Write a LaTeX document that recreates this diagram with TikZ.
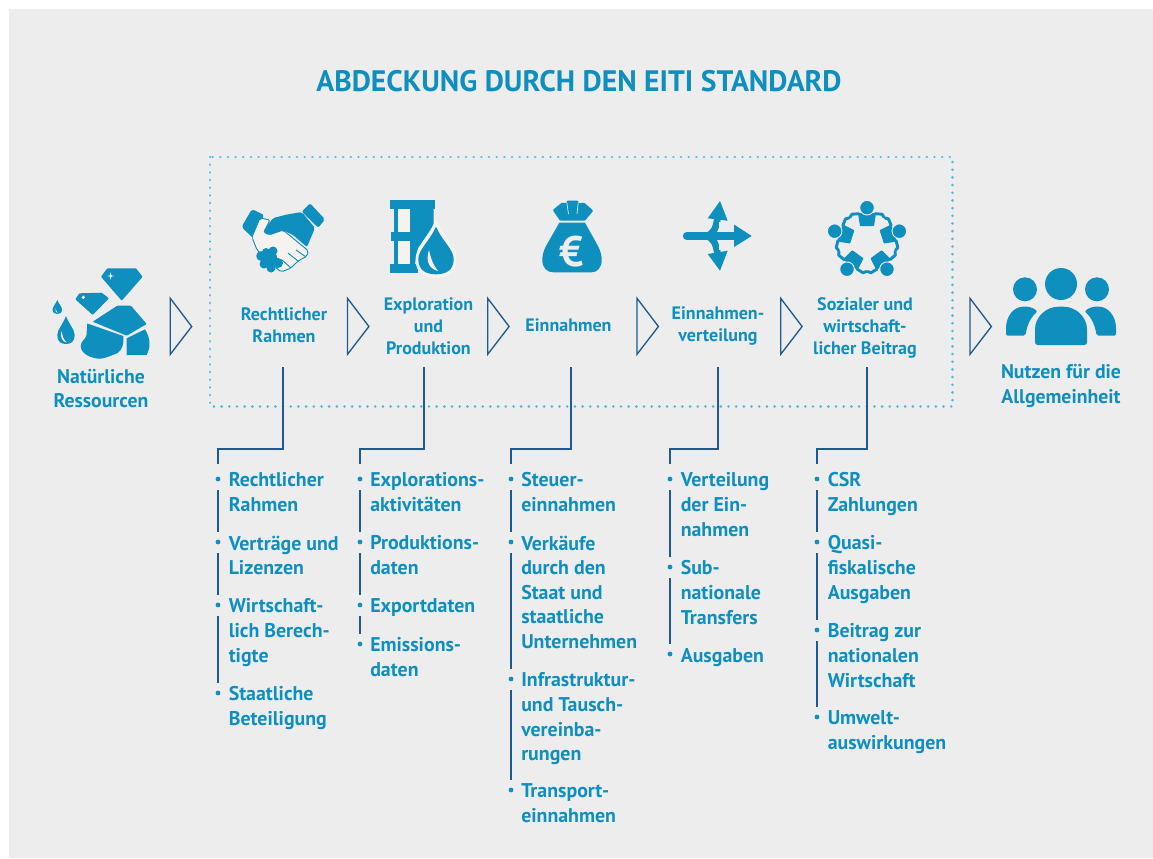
\documentclass[tikz,border=0pt]{standalone}
\usepackage{fontspec}
\setmainfont{PT Sans}
\definecolor{bgc}{HTML}{EDEDEE}
\definecolor{ikb}{HTML}{0F8FBE}
\definecolor{lit}{HTML}{F6F3EF}
\definecolor{nav}{HTML}{1F5A8E}
\definecolor{dotc}{HTML}{45BDE8}
\tikzset{
  px/.style={x=0.75pt,y=-0.75pt},
  lab/.style={text=ikb,font=\fontsize{13.5}{16.5}\selectfont\bfseries,align=center,inner sep=0pt},
  big/.style={text=ikb,font=\fontsize{14.8}{18.2}\selectfont\bfseries,align=center,inner sep=0pt},
  item/.style={text=ikb,font=\fontsize{14.9}{18.45}\selectfont\bfseries,align=left,anchor=north west,inner sep=0pt},
  bul/.style={circle,fill=ikb,draw=none,minimum size=3.6pt,inner sep=0pt},
  conn/.style={draw=nav,line width=1pt},
  seg/.style={conn,shorten <=6.5pt,shorten >=5.5pt},
  tri/.style={draw=nav,line width=1pt,line join=miter,fill=none},
  ico/.style={fill=ikb,draw=none},
  icl/.style={fill=lit,draw=none},
}
\newcommand{\trian}[2]{\draw[tri] (#1,#2-28.2) -- (#1+21.4,#2) -- (#1,#2+27.8) -- cycle;}
\newcommand{\dropshape}[4]{% cx, top, bottom, halfwidth
  (#1,#2) .. controls (#1+#4*0.35,#2+0.3*#3-0.3*#2) and (#1+#4,#2+0.48*#3-0.48*#2) .. (#1+#4,#2+0.68*#3-0.68*#2)
  .. controls (#1+#4,#3-0.08*#3+0.08*#2) and (#1+#4*0.55,#3) .. (#1,#3)
  .. controls (#1-#4*0.55,#3) and (#1-#4,#3-0.08*#3+0.08*#2) .. (#1-#4,#2+0.68*#3-0.68*#2)
  .. controls (#1-#4,#2+0.48*#3-0.48*#2) and (#1-#4*0.35,#2+0.3*#3-0.3*#2) .. (#1,#2) -- cycle}
\begin{document}
\begin{tikzpicture}[px]
\useasboundingbox (0,0) rectangle (1153,858);
\fill[white] (0,0) rectangle (1153,858);
\fill[bgc] (9,9) rectangle (1153,858);
\node[text=ikb,font=\fontsize{22.2}{26}\selectfont\bfseries,inner sep=0pt] (title) at (579,81) {ABDECKUNG DURCH DEN EITI STANDARD};
\draw[dotc,line width=2.1pt,line cap=round,dash pattern=on 0.01pt off 5.75pt] (210,157) rectangle (952.5,406.5);
% triangles
\trian{170.3}{326.5}\trian{347.5}{326.5}\trian{487.7}{326.5}\trian{637}{326.5}\trian{780.7}{326.5}\trian{970}{326.5}
% labels
\node[big] (nat) at (101,388.5) {Natürliche\\Ressourcen};
\node[lab] (l1) at (284,325) {Rechtlicher\\Rahmen};
\node[lab] (l2) at (428.5,326) {Exploration\\und\\Produktion};
\node[lab] (l3) at (568.5,325.5) {Einnahmen};
\node[lab] (l4) at (718,325.5) {Einnahmen-\\verteilung};
\node[lab] (l5) at (865,328) {Sozialer und\\wirtschaft-\\licher Beitrag};
\node[big] (nu) at (1061,386) {Nutzen für die\\Allgemeinheit};
% --- resources icon
\fill[ico,rounded corners=0.6pt] (107.3,268.3) -- (136,268.3) -- (142.7,276.7) -- (121.7,300.7) -- (101,276.7) -- cycle;
\fill[lit] (110.7,272) -- (111.3,275.4) -- (114.5,276) -- (111.3,276.6) -- (110.7,280) -- (110.1,276.6) -- (107,276) -- (110.1,275.4) -- cycle;
\fill[ico,rounded corners=0.6pt] (79.3,293.3) -- (101.7,292.7) -- (109,298.3) -- (92.7,315) -- (75.3,299.3) -- cycle;
\fill[lit] (83.3,297.3) circle (1.8);
\fill[ico,rounded corners=0.6pt] (92.7,321.7) -- (117.3,305.7) -- (131,305.7) -- (146.7,324) -- (126.7,335.7) -- cycle;
\fill[ico] (87.3,323.5) -- (123.3,336) .. controls (124,345) and (122,350) .. (117.3,353.3) .. controls (110,356) and (104,358.7) .. (100,358.7) .. controls (92,358.7) and (80.7,354) .. (80.7,346) .. controls (80.7,341) and (86,339) .. (86.5,335) -- cycle;
\fill[ico] (126.7,338.3) -- (145,329.3) .. controls (148,334) and (149.5,339) .. (149.5,344) .. controls (149.5,349) and (148,352) .. (146.7,355) -- (126.7,355) -- cycle;
\fill[ico] \dropshape{57.3}{300}{314}{4.7};
\fill[lit] (55.5,308) .. controls (55,311) and (56,312.5) .. (57.5,313) .. controls (56.5,311.5) and (56.2,310) .. (55.5,308) -- cycle;
\fill[ico] \dropshape{66}{316}{344}{8.7};
\fill[lit] (61.5,331) .. controls (60,337) and (62,342) .. (67,342.5) .. controls (63.5,340) and (62.5,336) .. (61.5,331) -- cycle;
% --- handshake
\fill[ico,rounded corners=1.5pt] (252,209) -- (264,215) -- (253,238) -- (241.5,227) -- cycle;
\fill[ico,rounded corners=1.5pt] (310,203.3) -- (325,219.3) -- (318.3,227.7) -- (301.7,211.7) -- cycle;
\fill[icl,draw=ikb,line width=0.7pt,rounded corners=1.5pt] (260,218) -- (270,220) -- (264,232) -- (269,235) -- (283,230) -- (308.5,251) -- (307,256) -- (298,261) -- (291,268) -- (281,272) -- (257,250) -- (252,237) -- cycle;
\draw[ikb,line width=0.7pt,rounded corners=1pt] (306,257) -- (296,250) (298,261) -- (288,253) (291,268) -- (282,260);
\fill[ico,rounded corners=1.5pt] (301.7,212) -- (315,228) -- (307,247) -- (293,235) -- (283,230) -- (269,235) -- (263,232) -- (273,218) -- (287,214.5) -- cycle;
\fill[ico] (269,259) circle (8.5) (261,256) circle (4.8) (264,264) circle (4.5) (271,268) circle (4.5) (278,263) circle (5) (273,251) circle (4.5) (266,252) circle (4);
% --- barrel and drop
\fill[ico] (390,200) rectangle (435,209);
\fill[ico] (390,264) rectangle (418,272.7);
\fill[ico] (394,209) rectangle (398.3,264);
\fill[ico] (391,231.7) rectangle (410,241);
\fill[ico] (410,209) -- (433.5,209) -- (433.5,226) -- (418,248) -- (415,264) -- (410,264) -- cycle;
\fill[icl] (398.3,209) rectangle (410,231.7);
\fill[icl] (398.3,241) rectangle (410,264);
\fill[icl] \dropshape{436}{219}{278}{20.5};
\fill[ico] \dropshape{436}{226.7}{274.3}{17.7};
\fill[icl] (429,250) .. controls (425,262) and (430,269) .. (438,271) .. controls (434,266) and (431,260) .. (429,250) -- cycle;
% --- money bag
\fill[ico,rounded corners=0.8pt] (552.7,210) -- (562,202.5) -- (566,203.5) -- (566.7,200.7) -- (578.3,200.7) -- (579,203.5) -- (584,202.5) -- (593.3,210.7) -- (585,220.7) -- (560,220.7) -- cycle;
\draw[bgc,line width=0.5pt] (566.7,202) -- (568.5,214) (578.3,202) -- (577,214);
\fill[ico] (559.3,222.7) -- (585,222.7) -- (598,246) .. controls (601,252) and (601.7,256) .. (601.7,260) .. controls (601.7,268) and (597,272.3) .. (591.7,272.3) -- (553.3,272.3) .. controls (547,272.3) and (542.3,268) .. (542.3,260) .. controls (542.3,256) and (543,252) .. (546,246) -- cycle;
\node[text=bgc,font=\fontsize{32}{32}\selectfont\bfseries,inner sep=0pt] (euro) at (571.5,251.5) {€};
% --- arrows
\fill[ico] (707.7,218.3) -- (720,201) -- (727.7,220.7) -- cycle;
\fill[ico] (707.7,254) -- (720,270.7) -- (727.7,250.7) -- cycle;
\draw[ikb,line width=5pt,line cap=butt] (706,236) .. controls (714,234) and (716,228) .. (717.5,218);
\draw[ikb,line width=5pt,line cap=butt] (706,236) .. controls (714,238) and (716,244) .. (717.5,254);
\draw[bgc,line width=1pt] (719.5,222) -- (719.5,232.5) (719.5,239.5) -- (719.5,250);
\draw[ikb,line width=5.4pt,line cap=round] (686.5,236) -- (736,236);
\fill[ico] (734,224.5) -- (751.7,236) -- (734,247) -- cycle;
% --- people ring
\begin{scope}[shift={(867,241.7)}]
\foreach \r in {0,72,144,216,288}{
  \begin{scope}[rotate=\r]
    \fill[ico,rounded corners=0.5pt] (-9,-28.5) -- (9,-28.5) -- (7,-15.5) -- (-7,-15.5) -- cycle;
    \draw[ikb,line width=2.2pt,line cap=round,line join=round] (-8,-28) -- (-15,-27.5) -- (-17,-24.5) (8,-28) -- (15,-27.5) -- (17,-24.5);
    \fill[ico,draw=bgc,line width=0.7pt] (0,-34) circle (7.3);
  \end{scope}
}
\end{scope}
% --- community
\fill[ico] (1061,284) circle (16);
\fill[ico] (1025,289.3) circle (12);
\fill[ico] (1097,289.3) circle (12);
\fill[ico,rounded corners=2pt] (1035,345) -- (1035,332) .. controls (1035,317) and (1046,306.7) .. (1061,306.7) .. controls (1076,306.7) and (1087,317) .. (1087,332) -- (1087,345) -- cycle;
\fill[ico,rounded corners=1.5pt] (1006,335.7) -- (1006,330) .. controls (1006,316) and (1014,306.7) .. (1025,306.7) .. controls (1030,306.7) and (1034,308.5) .. (1037.5,311.5) .. controls (1031,317) and (1027,325) .. (1025.5,335.7) -- cycle;
\fill[ico,rounded corners=1.5pt] (1116,335.7) -- (1116,330) .. controls (1116,316) and (1108,306.7) .. (1097,306.7) .. controls (1092,306.7) and (1088,308.5) .. (1084.5,311.5) .. controls (1091,317) and (1095,325) .. (1096.5,335.7) -- cycle;
% --- columns
% column 1
\coordinate (t1) at (283,367); \coordinate (e1) at (218,449);
\node[bul] (a1) at (218,479) {}; \node[bul] (a2) at (218,542) {}; \node[bul] (a3) at (218,605) {}; \node[bul] (a4) at (218,693) {};
\node[item] (ta1) at (228.5,472.5) {Rechtlicher\\Rahmen};
\node[item] (ta2) at (228.5,535.5) {Verträge und\\Lizenzen};
\node[item] (ta3) at (228.5,598.5) {Wirtschaft-\\lich Berech-\\tigte};
\node[item] (ta4) at (228.5,686.5) {Staatliche\\Beteiligung};
\draw[conn,shorten >=9pt] (t1) |- (e1) -- (a1);
\draw[seg] (a1) -- (a2); \draw[seg] (a2) -- (a3); \draw[seg] (a3) -- (a4);
% column 2
\coordinate (t2) at (424,367); \coordinate (e2) at (360,449);
\node[bul] (b1) at (360,479) {}; \node[bul] (b2) at (360,542) {}; \node[bul] (b3) at (360,605) {}; \node[bul] (b4) at (360,644) {};
\node[item] (tb1) at (370,472.5) {Explorations-\\aktivitäten};
\node[item] (tb2) at (370,535.5) {Produktions-\\daten};
\node[item] (tb3) at (370,598.5) {Exportdaten};
\node[item] (tb4) at (370,637.5) {Emissions-\\daten};
\draw[conn,shorten >=9pt] (t2) |- (e2) -- (b1);
\draw[seg] (b1) -- (b2); \draw[seg] (b2) -- (b3); \draw[seg] (b3) -- (b4);
% column 3
\coordinate (t3) at (571,367); \coordinate (e3) at (511,449);
\node[bul] (c1) at (511,479) {}; \node[bul] (c2) at (511,542) {}; \node[bul] (c3) at (511,679) {}; \node[bul] (c4) at (511,790) {};
\node[item] (tc1) at (521,472.5) {Steuer-\\einnahmen};
\node[item] (tc2) at (521,535.5) {Verkäufe\\durch den\\Staat und\\staatliche\\Unternehmen};
\node[item] (tc3) at (521,672.5) {Infrastruktur-\\und Tausch-\\vereinba-\\rungen};
\node[item] (tc4) at (521,783.5) {Transport-\\einnahmen};
\draw[conn,shorten >=9pt] (t3) |- (e3) -- (c1);
\draw[seg] (c1) -- (c2); \draw[seg] (c2) -- (c3); \draw[seg] (c3) -- (c4);
% column 4
\coordinate (t4) at (718,367); \coordinate (e4) at (670,449);
\node[bul] (d1) at (670,479) {}; \node[bul] (d2) at (670,567) {}; \node[bul] (d3) at (670,654) {};
\node[item] (td1) at (680.5,472.5) {Verteilung\\der Ein-\\nahmen};
\node[item] (td2) at (680.5,560.5) {Sub-\\nationale\\Transfers};
\node[item] (td3) at (680.5,648) {Ausgaben};
\draw[conn,shorten >=9pt] (t4) |- (e4) -- (d1);
\draw[seg] (d1) -- (d2); \draw[seg] (d2) -- (d3);
% column 5
\coordinate (t5) at (867,367); \coordinate (e5) at (817,449);
\node[bul] (f1) at (817,479) {}; \node[bul] (f2) at (817,542) {}; \node[bul] (f3) at (817,630) {}; \node[bul] (f4) at (817,717) {};
\node[item] (tf1) at (827.5,472.5) {CSR\\Zahlungen};
\node[item] (tf2) at (827.5,535.5) {Quasi-\\fiskalische\\Ausgaben};
\node[item] (tf3) at (827.5,623.5) {Beitrag zur\\nationalen\\Wirtschaft};
\node[item] (tf4) at (827.5,710.5) {Umwelt-\\auswirkungen};
\draw[conn,shorten >=9pt] (t5) |- (e5) -- (f1);
\draw[seg] (f1) -- (f2); \draw[seg] (f2) -- (f3); \draw[seg] (f3) -- (f4);
\end{tikzpicture}
\end{document}
